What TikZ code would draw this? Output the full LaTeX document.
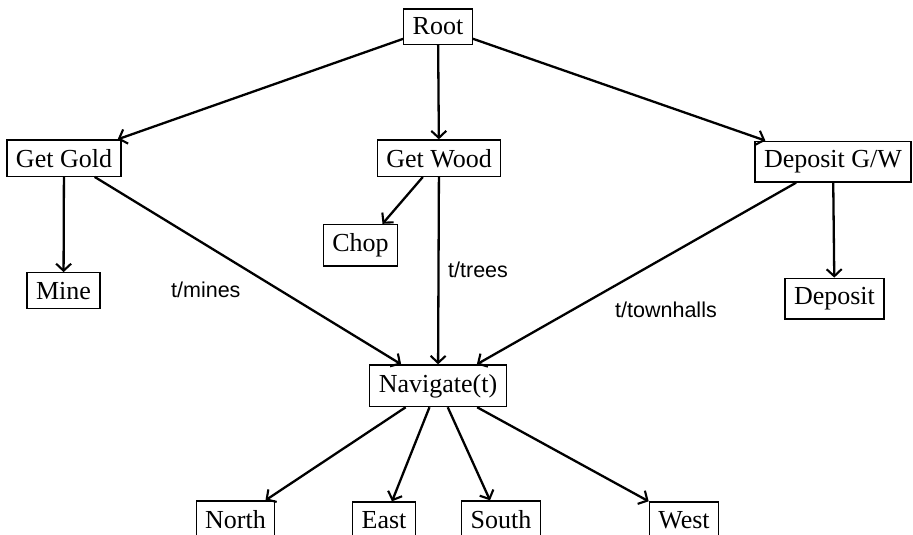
\documentclass[tikz,border=0pt]{standalone}
\usepackage{fontspec}
\setmainfont{Liberation Serif}
\newfontfamily\labelfont{Liberation Sans}
\usetikzlibrary{arrows.meta}

\tikzset{
  task/.style={draw, line width=1.3pt, inner xsep=9pt, inner ysep=9pt,
    anchor=base, font=\fontsize{26}{30}\selectfont},
  link/.style={line width=2.3pt, -{Straight Barb[length=7pt,width=15pt,line width=2.1pt]}},
  edgelabel/.style={anchor=base west, inner sep=0pt,
    font=\labelfont\fontsize{21.5}{26}\selectfont}
}

\begin{document}
\begin{tikzpicture}[x=1pt,y=-1pt]
  \clip (0,0) rectangle (913,535);

  % task hierarchy
  \node[task] (root)  at (438,35)    {Root};
  \node[task] (gold)  at (64,167)    {Get Gold};
  \node[task] (wood)  at (439,167)   {Get Wood};
  \node[task] (depgw) at (833,167.5) {Deposit G/W};
  \node[task] (mine)  at (63.5,299)  {Mine};
  \node[task] (chop)  at (360.5,251.5) {Chop};
  \node[task] (dep)   at (834.5,304.5) {Deposit};
  \node[task] (nav)   at (438,392)   {Navigate(t)};
  \node[task] (north) at (235.5,528) {North};
  \node[task] (east)  at (384,528)   {East};
  \node[task] (south) at (501,528)   {South};
  \node[task] (west)  at (684,528)   {West};

  % parent to child links
  \draw[link] (root) -- ([xshift=-4pt]gold.north east);
  \draw[link] (root) -- (wood);
  \draw[link] (root) -- ([xshift=11pt]depgw.north west);
  \draw[link] (gold) -- (mine);
  \draw[link] (wood) -- ([xshift=22pt]chop.north);
  \draw[link] (depgw) -- (dep);
  \draw[link] (gold) -- ([xshift=32pt]nav.north west);
  \draw[link] (wood) -- (nav);
  \draw[link] (depgw) -- ([xshift=-30pt]nav.north east);
  \draw[link] (nav) -- ([xshift=-10pt]north.north east);
  \draw[link] (nav) -- ([xshift=8pt]east.north);
  \draw[link] (nav) -- ([xshift=-11pt]south.north);
  \draw[link] (nav) -- (west.north west);

  % navigation targets
  \node[edgelabel] (lmines) at (171,297) {t/mines};
  \node[edgelabel] (ltrees) at (448,277) {t/trees};
  \node[edgelabel] (ltown)  at (615,317) {t/townhalls};
\end{tikzpicture}
\end{document}
